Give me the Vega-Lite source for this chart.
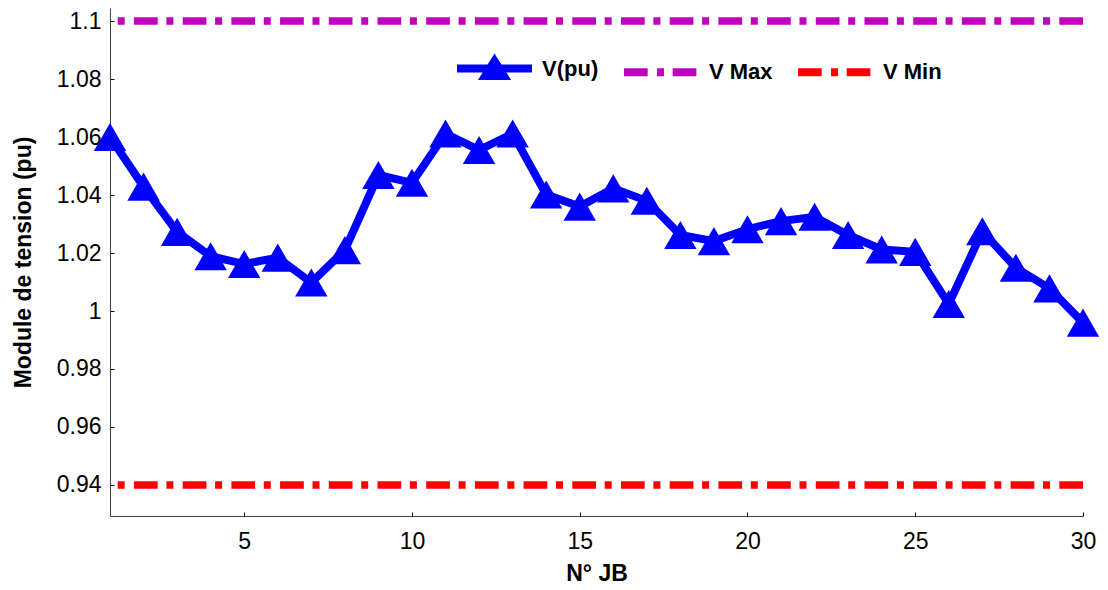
{
  "$schema": "https://vega.github.io/schema/vega-lite/v6.json",
  "width": 973,
  "height": 508,
  "autosize": {"type": "none"},
  "padding": {"left": 110, "top": 8, "right": 25, "bottom": 74},
  "background": "white",
  "config": {
    "view": {"stroke": null},
    "font": "Liberation Sans",
    "axis": {
      "grid": false,
      "labelFont": "Liberation Sans",
      "labelFontSize": 23,
      "labelColor": "black",
      "titleFont": "Liberation Sans",
      "titleFontSize": 23,
      "titleFontWeight": "bold",
      "titleColor": "black",
      "domainColor": "#404040",
      "domainWidth": 1,
      "tickColor": "black",
      "tickWidth": 1,
      "tickSize": -4,
      "labelFlush": false,
      "labelOverlap": false
    }
  },
  "datasets": {
    "bus": [
      {"jb": 1, "v": 1.0600, "series": "V(pu)"},
      {"jb": 2, "v": 1.0429, "series": "V(pu)"},
      {"jb": 3, "v": 1.0273, "series": "V(pu)"},
      {"jb": 4, "v": 1.0189, "series": "V(pu)"},
      {"jb": 5, "v": 1.0162, "series": "V(pu)"},
      {"jb": 6, "v": 1.0184, "series": "V(pu)"},
      {"jb": 7, "v": 1.0098, "series": "V(pu)"},
      {"jb": 8, "v": 1.0210, "series": "V(pu)"},
      {"jb": 9, "v": 1.0469, "series": "V(pu)"},
      {"jb": 10, "v": 1.0442, "series": "V(pu)"},
      {"jb": 11, "v": 1.0612, "series": "V(pu)"},
      {"jb": 12, "v": 1.0555, "series": "V(pu)"},
      {"jb": 13, "v": 1.0612, "series": "V(pu)"},
      {"jb": 14, "v": 1.0402, "series": "V(pu)"},
      {"jb": 15, "v": 1.0360, "series": "V(pu)"},
      {"jb": 16, "v": 1.0423, "series": "V(pu)"},
      {"jb": 17, "v": 1.0380, "series": "V(pu)"},
      {"jb": 18, "v": 1.0262, "series": "V(pu)"},
      {"jb": 19, "v": 1.0241, "series": "V(pu)"},
      {"jb": 20, "v": 1.0282, "series": "V(pu)"},
      {"jb": 21, "v": 1.0310, "series": "V(pu)"},
      {"jb": 22, "v": 1.0325, "series": "V(pu)"},
      {"jb": 23, "v": 1.0262, "series": "V(pu)"},
      {"jb": 24, "v": 1.0212, "series": "V(pu)"},
      {"jb": 25, "v": 1.0204, "series": "V(pu)"},
      {"jb": 26, "v": 1.0024, "series": "V(pu)"},
      {"jb": 27, "v": 1.0275, "series": "V(pu)"},
      {"jb": 28, "v": 1.0149, "series": "V(pu)"},
      {"jb": 29, "v": 1.0078, "series": "V(pu)"},
      {"jb": 30, "v": 0.9960, "series": "V(pu)"}
    ],
    "limits": [
      {"v": 1.1, "series": "V Max"},
      {"v": 0.94, "series": "V Min"}
    ]
  },
  "encoding": {
    "y": {
      "field": "v",
      "type": "quantitative",
      "scale": {"domain": [0.9293, 1.1045], "nice": false, "zero": false},
      "axis": {
        "title": "Module de tension (pu)",
        "values": [0.94, 0.96, 0.98, 1, 1.02, 1.04, 1.06, 1.08, 1.1],
        "format": "~g",
        "labelPadding": 13,
        "titlePadding": 21
      }
    },
    "color": {
      "field": "series",
      "type": "nominal",
      "scale": {
        "domain": ["V(pu)", "V Max", "V Min"],
        "range": ["#0000ff", "#bf00bf", "#ff0000"]
      },
      "legend": {
        "title": null,
        "orient": "none",
        "legendX": 343,
        "legendY": 19,
        "direction": "horizontal",
        "padding": 0,
        "columnPadding": 9,
        "symbolSize": 5625,
        "symbolStrokeWidth": 8,
        "labelOffset": 6,
        "labelFont": "Liberation Sans",
        "labelFontSize": 22,
        "labelFontWeight": "bold",
        "labelColor": "black",
        "encode": {
          "symbols": {
            "update": {
              "shape": {"signal": "datum.value === 'V(pu)' ? 'M-1,0L1,0M0,-0.2L0.25,0.2L-0.25,0.2Z' : 'M-1,0L1,0'"},
              "fill": {"signal": "datum.value === 'V(pu)' ? '#0000ff' : 'transparent'"},
              "stroke": {"signal": "datum.value === 'V(pu)' ? '#0000ff' : (datum.value === 'V Max' ? '#bf00bf' : '#ff0000')"},
              "strokeDash": {"signal": "datum.value === 'V(pu)' ? [1, 0] : [23.7, 9.3, 7, 8.7]"},
              "strokeWidth": {"value": 8},
              "opacity": {"value": 1},
              "fillOpacity": {"value": 1},
              "strokeOpacity": {"value": 1}
            }
          }
        }
      }
    }
  },
  "layer": [
    {
      "data": {"name": "limits"},
      "mark": {"type": "rule", "strokeWidth": 7.5, "strokeDash": [23.7, 9.3, 7, 8.7]}
    },
    {
      "data": {"name": "bus"},
      "mark": {"type": "line", "strokeWidth": 8},
      "encoding": {
        "x": {
          "field": "jb",
          "type": "quantitative",
          "scale": {"domain": [1, 30], "nice": false, "zero": false},
          "axis": {
            "title": "N° JB",
            "values": [5, 10, 15, 20, 25, 30],
            "format": "d",
            "labelPadding": 18,
            "titlePadding": 9
          }
        }
      }
    },
    {
      "data": {"name": "bus"},
      "mark": {"type": "point", "shape": "triangle-up", "size": 1050, "filled": true, "opacity": 1},
      "encoding": {
        "x": {"field": "jb", "type": "quantitative"}
      }
    }
  ]
}
